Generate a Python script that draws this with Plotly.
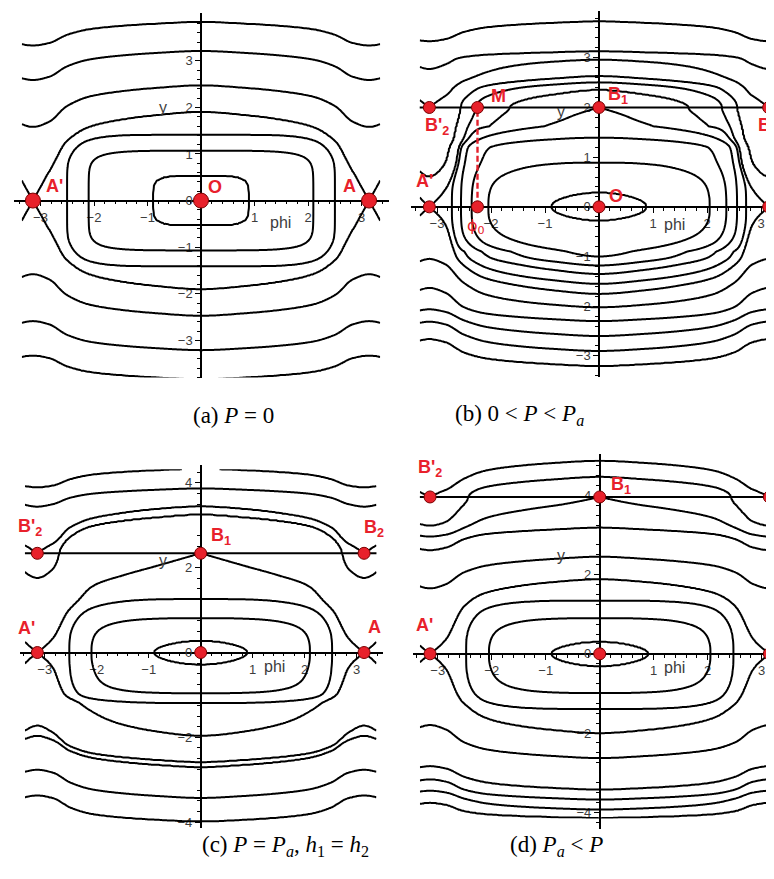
import numpy as np
import plotly.graph_objects as go

W, H = 774, 879
PI = np.pi

# ---------------- data ----------------
# normalised periodic potential g(phi) on [0, pi]
G_PHI = [0.0, 0.9, 1.5, 2.1, 2.5, 2.84, PI]
G_VAL = [0.0, 0.081, 0.17, 0.317, 0.55, 0.9, 1.0]

# (a) P = 0 : kinetic part F(|y|)
A_F_Y = [0.0, 0.54, 1.07, 1.41, 1.9, 2.47, 3.21, 3.83, 3.95]
A_F_V = [0.0, 0.081, 0.317, 0.55, 1.0, 1.69, 2.854, 4.06, 4.3]
A_CLOSED = [0.081, 0.317, 0.55, 1.0]
A_OPEN = [1.69, 2.854, 4.06]
A_BOX = dict(nmax=3.2, tk=[0.0, 0.6, 1.0], ak=[1.0, 0.91, 0.0], yk=[-9, 9], bk=[1, 1])

# (b) 0 < P < Pa
B_YB = 2.0
B_F_Y = [-3.45, -3.2, -2.9, -2.6, -2.3, -2.02, -1.75, -1.55, -1.35, -1.18, -1.0, -0.28, 0.0,
         0.29, 0.89, 1.19, 1.39, 1.6, 1.8, 2.0]
B_F_V = [4.0, 3.5, 2.9, 2.4, 1.88, 1.33, 1.0, 0.8, 0.6, 0.45, 0.30, 0.079, 0.0,
         0.079, 0.30, 0.36, 0.45, 0.50, 0.56, 0.6]
B_K_Y = [2.0, 2.36, 2.63, 2.96, 3.13, 3.33, 3.73, 3.9]
B_K_V = [0.6, 0.8, 1.2, 1.6, 2.35, 2.75, 3.75, 4.2]
B_CLOSED = [0.079, 0.30, 0.45, 0.6, 0.8, 1.0]
B_TOP = [1.2]
B_BOT = [1.33, 1.88, 2.4, 2.9, 3.5]
B_UP = [0.8, 1.0, 1.2, 1.6, 2.35, 3.75]
B_BOX = dict(nmax=2.2, tk=[0.0, 0.1, 0.3, 0.85, 1.0], ak=[0.0, 0.3, 1.0, 1.0, 0.0],
             yk=[-9, -0.9, -0.2, 1.2, 1.62, 9], bk=[0, 0, 1, 1, 0, 0])
B_PHI0 = -2.25

# (c) P = Pa, h1 = h2
C_YB = 2.34
C_F_Y = [-4.05, -3.98, -3.43, -2.8, -2.59, -1.96, -1.73, -1.19, -0.96, -0.29, 0.0, 0.28, 0.81, 1.26, 1.58, 1.815, 2.025, 2.34]
C_F_V = [4.15, 4.0, 3.1, 2.15, 1.85, 1.0, 0.85, 0.57, 0.317, 0.081, 0.0, 0.081, 0.317, 0.57, 0.70, 0.83, 0.92, 1.0]
C_K_Y = [2.34, 2.8, 3.26, 3.44, 3.87, 4.35]
C_K_V = [1.0, 1.3, 1.8, 2.0, 3.0, 4.1]
C_CLOSED = [0.081, 0.317, 0.57, 1.0]
C_TOP = [1.8]
C_BOT = [1.85, 2.0, 3.1, 4.0]
C_UP = [1.8, 2.0, 3.0, 4.05]
C_BOX = dict(nmax=2.2, tk=[0.0, 0.08, 0.3, 0.6, 0.85, 1.0], ak=[0.0, 0.2, 1.0, 1.0, 0.5, 0.0],
             yk=[-9, 1.3, 2.1, 9], bk=[1, 1, 0, 0])

# (d) Pa < P
D_YB = 3.96
D_F_Y = [-4.2, -4.14, -3.93, -3.68, -3.43, -3.17, -2.84, -2.63, -2.0, -1.39, -0.99, -0.32, 0.0,
         0.31, 0.9, 1.34, 1.65, 1.88, 2.45, 2.62, 2.96, 3.19, 3.38, 3.96]
D_F_V = [5.05, 4.85, 4.2, 3.7, 3.15, 2.7, 2.15, 1.82, 1.0, 0.53, 0.30, 0.081, 0.0,
         0.081, 0.30, 0.53, 0.78, 1.0, 1.78, 2.0, 2.55, 3.0, 3.19, 3.55]
D_K_Y = [3.96, 4.47, 4.87, 5.1]
D_K_V = [3.55, 4.05, 4.55, 4.9]
D_CLOSED = [0.081, 0.30, 0.53, 1.0]
D_TOP = [1.78, 3.0, 3.55, 4.05]
D_BOT = [1.82, 3.15, 3.7, 4.2, 4.85]
D_UP = [4.05, 4.55]
D_BOX = dict(nmax=2.2, tk=[0.0, 0.08, 0.3, 0.6, 0.85, 1.0], ak=[0.0, 0.2, 1.0, 1.0, 0.5, 0.0],
             yk=[-9, 9], bk=[1, 1])


# ---------------- helpers ----------------
def pchip(xk, yk, x, d0=None, d1=None):
    xk = np.asarray(xk, float); yk = np.asarray(yk, float)
    h = np.diff(xk); dl = np.diff(yk) / h
    n = len(xk); d = np.zeros(n)
    for k in range(1, n - 1):
        if dl[k - 1] * dl[k] > 0:
            w1 = 2 * h[k] + h[k - 1]; w2 = h[k] + 2 * h[k - 1]
            d[k] = (w1 + w2) / (w1 / dl[k - 1] + w2 / dl[k])
    d[0] = dl[0] if d0 is None else d0
    d[-1] = dl[-1] if d1 is None else d1
    x = np.clip(np.asarray(x, float), xk[0], xk[-1])
    i = np.clip(np.searchsorted(xk, x) - 1, 0, n - 2)
    t = (x - xk[i]) / h[i]
    t2 = t * t; t3 = t2 * t
    return ((2 * t3 - 3 * t2 + 1) * yk[i] + (t3 - 2 * t2 + t) * h[i] * d[i]
            + (-2 * t3 + 3 * t2) * yk[i + 1] + (t3 - t2) * h[i] * d[i + 1])


def g_of(phi):
    a = np.abs(phi)
    a = np.where(a > PI, 2 * PI - a, a)
    return pchip(G_PHI, G_VAL, a, 0.0, 0.0)


def boxy(u, v, Y, box, S=1.0):
    """rounded-rectangle reshaping of the inner (closed) orbits."""
    s = u + v
    t = np.clip(s / S, 0, 1)
    n = 1 + (box['nmax'] - 1) * np.interp(t, box['tk'], box['ak']) * np.interp(Y, box['yk'], box['bk'])
    us = np.clip(u / S, 0, None); vs = np.clip(v / S, 0, None)
    psi = S * (us ** n + vs ** n) ** (1.0 / n)
    return np.where(s < S, psi, s)


def level_index(Hv, levels):
    L = np.asarray(levels, float)
    span = 3.0
    xp = np.concatenate([[L[0] - span], L, [L[-1] + span]])
    fp = np.arange(-1, len(L) + 1, dtype=float)
    return np.interp(Hv, xp, fp)


def contour(x, y, z, nlev, ax):
    return go.Contour(x=x, y=y, z=np.round(z, 4), xaxis='x' + ax, yaxis='y' + ax,
                      autocontour=False,
                      contours=dict(start=0, end=nlev - 1, size=1, coloring='none'),
                      line=dict(color='black', width=2, smoothing=1.0),
                      showscale=False, hoverinfo='skip')


fig = go.Figure()

# ---------------- panel (a) ----------------
phi_a = np.linspace(-3.35, 3.35, 321)
y_a = np.linspace(-3.86, 3.86, 341)
PA, YA = np.meshgrid(phi_a, y_a)
uA = pchip(A_F_Y, A_F_V, np.abs(YA), 0.0, None)
HA = boxy(uA, g_of(PA), YA, A_BOX)
levA = A_CLOSED + A_OPEN
fig.add_trace(contour(phi_a, y_a, level_index(HA, levA), len(levA), ''))


# ---------------- panels (b), (c), (d) ----------------
def add_switch_panel(ax, yb, ymin, ymax, xlo, xhi, Fy, Fv, Ky, Kv, closed, top, bot, up, box):
    phi = np.linspace(xlo, xhi, 321)
    ylo = np.linspace(ymin, yb, 330)
    P, Y = np.meshgrid(phi, ylo)
    u = pchip(Fy, Fv, Y, None, 0.0)
    v = g_of(P)
    Hl = boxy(u, v, Y, box)
    zt = level_index(Hl, closed + top)
    zb = level_index(Hl, closed + bot)
    Z = np.where(Y >= 0, zt, zb)
    fig.add_trace(contour(phi, ylo, Z, max(len(closed + top), len(closed + bot)), ax))
    yhi = np.linspace(yb, ymax, 90)
    P2, Y2 = np.meshgrid(phi, yhi)
    Hu = pchip(Ky, Kv, Y2, 0.0, None) + g_of(P2)
    fig.add_trace(contour(phi, yhi, level_index(Hu, up), len(up), ax))
    # switching line
    fig.add_trace(go.Scatter(x=[xlo, xhi], y=[yb, yb], mode='lines', xaxis='x' + ax, yaxis='y' + ax,
                             line=dict(color='black', width=2), hoverinfo='skip'))


add_switch_panel('2', B_YB, -3.42, 3.76, -3.32, 3.31, B_F_Y, B_F_V, B_K_Y, B_K_V,
                 B_CLOSED, B_TOP, B_BOT, B_UP, B_BOX)
add_switch_panel('3', C_YB, -4.02, 4.32, -3.38, 3.38, C_F_Y, C_F_V, C_K_Y, C_K_V,
                 C_CLOSED, C_TOP, C_BOT, C_UP, C_BOX)
add_switch_panel('4', D_YB, -4.16, 4.9, -3.33, 3.36, D_F_Y, D_F_V, D_K_Y, D_K_V,
                 D_CLOSED, D_TOP, D_BOT, D_UP, D_BOX)

# dashed line M - phi0 in (b)
fig.add_trace(go.Scatter(x=[B_PHI0, B_PHI0], y=[0, B_YB], mode='lines', xaxis='x2', yaxis='y2',
                         line=dict(color='#e3202b', width=2.4, dash='6px,3px'), hoverinfo='skip'))

# ---------------- equilibrium points ----------------
RED = '#e8212b'
def pts(xs, ys, ax, size):
    fig.add_trace(go.Scatter(x=xs, y=ys, mode='markers', xaxis='x' + ax, yaxis='y' + ax,
                             marker=dict(size=size, color=RED, line=dict(color='#7a0000', width=1)),
                             hoverinfo='skip'))

pts([-PI, 0, PI], [0, 0, 0], '', 15)
pts([-PI, 0, PI, -PI, 0, PI, B_PHI0, B_PHI0], [0, 0, 0, B_YB, B_YB, B_YB, B_YB, 0], '2', 12)
pts([-PI, 0, PI, -PI, 0, PI], [0, 0, 0, C_YB, C_YB, C_YB], '3', 12)
pts([-PI, 0, PI, -PI, 0, PI], [0, 0, 0, D_YB, D_YB, D_YB], '4', 12)

# ---------------- axes ----------------
panels = {
    '':  dict(o=(193.0, 193.0), u=(53.5, 46.7), xr=(-3.5, 3.52), yr=(-3.8, 4.02),
              xt=[-3, -2, -1, 1, 2, 3], yt=[-3, -2, -1, 0, 1, 2, 3], ym=0.2),
    '2': dict(o=(591.0, 199.3), u=(54.0, 49.8), xr=(-3.48, 3.38), yr=(-3.43, 3.94),
              xt=[-3, -2, -1, 1, 2, 3], yt=[-3, -2, -1, 0, 1, 2, 3], ym=0.2),
    '3': dict(o=(192.7, 646.0), u=(52.0, 42.5), xr=(-3.48, 3.5), yr=(-4.13, 4.42),
              xt=[-3, -2, -1, 1, 2, 3], yt=[-4, -2, 0, 2, 4], ym=0.25),
    '4': dict(o=(591.7, 647.3), u=(54.0, 39.7), xr=(-3.46, 3.37), yr=(-4.43, 5.05),
              xt=[-3, -2, -1, 1, 2, 3], yt=[-4, -2, 0, 2, 4], ym=0.25),
}
tickfont = dict(family='Liberation Sans, Arial, sans-serif', size=13, color='#3c3c3c')
for ax, p in panels.items():
    ox, oy = p['o']; ux, uy = p['u']
    xd = [(ox + p['xr'][0] * ux) / W, (ox + p['xr'][1] * ux) / W]
    yd = [1 - (oy - p['yr'][0] * uy) / H, 1 - (oy - p['yr'][1] * uy) / H]
    common = dict(showgrid=False, zeroline=False, showline=True, linecolor='black', linewidth=1.5,
                  ticks='outside', ticklen=5, tickwidth=1.3, tickcolor='black', tickfont=tickfont,
                  anchor='free', layer='below traces', fixedrange=True, tickmode='array')
    xm = [v for v in np.round(np.arange(-3.4, 3.41, 0.2), 2) if abs(v - round(v)) > 1e-6]
    ym = [v for v in np.round(np.arange(-5.0, 5.01, p['ym']), 2) if abs(v - round(v)) > 1e-6]
    fig.layout['xaxis' + ax] = dict(common, domain=xd, range=list(p['xr']), position=1 - oy / H,
                                    tickvals=p['xt'],
                                    minor=dict(tickvals=xm, ticks='outside', ticklen=3, tickcolor='black'))
    fig.layout['yaxis' + ax] = dict(common, domain=yd, range=list(p['yr']), position=ox / W,
                                    tickvals=p['yt'],
                                    minor=dict(tickvals=ym, ticks='outside', ticklen=3, tickcolor='black'))

# ---------------- labels ----------------
lab_font = dict(family='Liberation Sans, Arial, sans-serif', size=18, color=RED)
ann = []
def lab(ax, x, y, text, font=lab_font):
    ann.append(dict(x=x, y=y, xref='x' + ax, yref='y' + ax, text=text, showarrow=False, font=font))

b = lambda s: '<b>' + s + '</b>'
lab('', -2.73, 0.32, b("A'")); lab('', 0.26, 0.30, b('O')); lab('', 2.77, 0.32, b('A'))
lab('2', -3.23, 0.52, b("A'")); lab('2', 3.3, 0.52, b('A')); lab('2', 0.31, 0.22, b('O'))
lab('2', 0.36, 2.25, b('B<sub>1</sub>')); lab('2', -3.0, 1.62, b("B'<sub>2</sub>"))
lab('2', 3.13, 1.62, b('B<sub>2</sub>')); lab('2', -1.87, 2.23, b('M'))
lab('2', -2.28, -0.4, 'ϕ<sub>0</sub>', dict(family='DejaVu Sans, sans-serif', size=16, color=RED))
lab('3', -3.28, 2.96, b("B'<sub>2</sub>")); lab('3', 0.4, 2.73, b('B<sub>1</sub>'))
lab('3', 3.33, 2.92, b('B<sub>2</sub>')); lab('3', -3.35, 0.57, b("A'")); lab('3', 3.35, 0.6, b('A'))
lab('4', -3.15, 4.68, b("B'<sub>2</sub>")); lab('4', 0.4, 4.26, b('B<sub>1</sub>'))
lab('4', 3.3, 4.63, b('B<sub>2</sub>')); lab('4', -3.24, 0.73, b("A'")); lab('4', 3.3, 0.69, b('A'))

axf = dict(family='Liberation Sans, Arial, sans-serif', size=16, color='#3c3c3c')
for ax, xy, yy in [('', (1.48, -0.47), (-0.71, 1.99)), ('2', (1.4, -0.35), (-0.7, 1.91)),
                   ('3', (1.42, -0.33), (-0.72, 2.18)), ('4', (1.39, -0.34), (-0.71, 2.47))]:
    lab(ax, xy[0], xy[1], 'phi', axf)
    lab(ax, yy[0], yy[1], 'y', axf)

capf = dict(family='Liberation Serif, DejaVu Serif, serif', size=23, color='black')
for x, y, t in [(183, 408, '(a) <i>P</i> = 0'),
                (578, 408, '(b) 0 &lt; <i>P</i> &lt; <i>P</i><sub><i>a</i></sub>'),
                (192, 856, '(c) <i>P</i> = <i>P</i><sub><i>a</i></sub>, <i>h</i><sub>1</sub> = <i>h</i><sub>2</sub>'),
                (597, 856, '(d) <i>P</i><sub><i>a</i></sub> &lt; <i>P</i>')]:
    ann.append(dict(x=x / W, y=1 - y / H, xref='paper', yref='paper', text=t, showarrow=False, font=capf))

fig.update_layout(width=W, height=H, margin=dict(l=0, r=0, t=0, b=0), showlegend=False,
                  paper_bgcolor='white', plot_bgcolor='white', annotations=ann)
fig.write_html('out.html')
